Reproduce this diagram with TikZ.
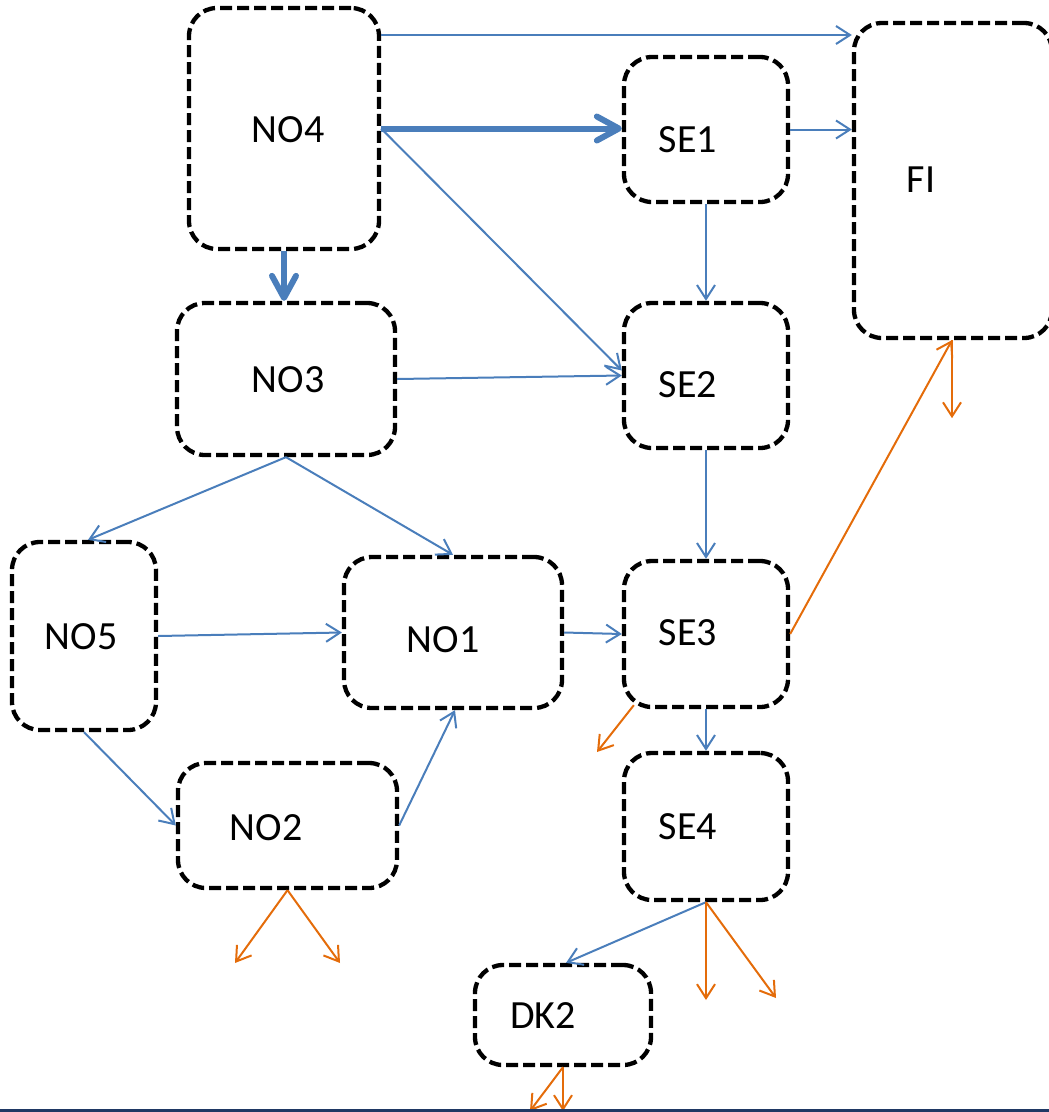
\documentclass[tikz,border=0pt]{standalone}
\usepackage{fontspec}
\setmainfont{Carlito}
\usetikzlibrary{arrows.meta,calc}

\definecolor{flowblue}{RGB}{74,126,187}
\definecolor{lossorange}{RGB}{228,108,10}
\definecolor{rulenavy}{RGB}{31,56,100}

\tikzset{
  stage/.style={draw=black, line width=4.3pt, dash pattern=on 12pt off 5pt,
    rounded corners=28pt, inner sep=0pt, fill=none},
  lbl/.style={inner sep=0pt, font=\fontsize{40}{48}\selectfont},
  flow/.style={draw=flowblue, line width=2pt,
    -{Straight Barb[length=14pt,width=18pt,line width=2pt]}},
  mainflow/.style={draw=flowblue, line width=6pt,
    -{Straight Barb[length=22pt,width=24pt,line width=6pt,round]}},
  loss/.style={draw=lossorange, line width=2pt,
    -{Straight Barb[length=14pt,width=18pt,line width=2pt]}},
}

\begin{document}
\begin{tikzpicture}[x=1pt,y=-1pt]
\useasboundingbox (0,0) rectangle (1049,1112);
\clip (0,0) rectangle (1049,1112);

% stage boxes
\node[stage, minimum width=190pt, minimum height=241pt] (no4) at (284,128.5) {};
\node[stage, minimum width=164pt, minimum height=145pt] (se1) at (706,129.5) {};
\node[stage, minimum width=198pt, minimum height=315pt] (fi)  at (953,180.5) {};
\node[stage, minimum width=218pt, minimum height=152pt] (no3) at (286,379) {};
\node[stage, minimum width=164pt, minimum height=145pt] (se2) at (706,375.5) {};
\node[stage, minimum width=144pt, minimum height=188pt] (no5) at (84,636) {};
\node[stage, minimum width=218pt, minimum height=151pt] (no1) at (453,632.5) {};
\node[stage, minimum width=164pt, minimum height=146pt] (se3) at (706,634) {};
\node[stage, minimum width=219pt, minimum height=125pt] (no2) at (287.5,825.5) {};
\node[stage, minimum width=164pt, minimum height=147pt] (se4) at (706,826.5) {};
\node[stage, minimum width=176pt, minimum height=100pt] (dk2) at (563,1015) {};

% labels
\node[lbl] (tno4) at (288,130) {NO4};
\node[lbl] (tse1) at (688,140) {SE1};
\node[lbl] (tfi)  at (921,180) {FI};
\node[lbl] (tno3) at (288,380) {NO3};
\node[lbl] (tse2) at (688,385) {SE2};
\node[lbl] (tno5) at (81,637) {NO5};
\node[lbl] (tno1) at (443,640) {NO1};
\node[lbl] (tse3) at (688,633) {SE3};
\node[lbl] (tno2) at (266,828) {NO2};
\node[lbl] (tse4) at (688,827) {SE4};
\node[lbl] (tdk2) at (543,1016) {DK2};

% helper points
\coordinate (no4top) at ([yshift=93.5pt]no4.east);
\coordinate (se3corner) at ($(se3.south west)+(12,-4)$);
\coordinate (fiout)  at ($(fi.south)+(-1,78)$);
\coordinate (se3out) at (597,752);
\coordinate (no2outl) at (235,963);
\coordinate (no2outr) at (340,963);
\coordinate (se4outa) at (706,1000);
\coordinate (se4outb) at (776,998);
\coordinate (dk2outa) at (530,1111);
\coordinate (dk2outb) at (563,1111);

% main flows
\draw[mainflow] (no4.east) -- (no4.east -| se1.west);
\draw[mainflow] (no4.south) -- (no4.south |- no3.north);

% flows
\draw[flow] (no4top) -- (no4top -| fi.west);
\draw[flow] (no4.east) -- ([yshift=5pt]se2.west);
\draw[flow] (se1.east) -- (se1.east -| fi.west);
\draw[flow] (se1.south) -- (se2.north);
\draw[flow] (no3.east) -- (se2.west);
\draw[flow] (se2.south) -- (se3.north);
\draw[flow] (no3.south) -- ([xshift=4pt]no5.north);
\draw[flow] (no3.south) -- (no1.north);
\draw[flow] (no5.east) -- (no1.west);
\draw[flow] (no1.east) -- (se3.west);
\draw[flow] (no5.south) -- (no2.west);
\draw[flow] (no2.east) -- ([xshift=2pt]no1.south);
\draw[flow] (se3.south) -- (se4.north);
\draw[flow] (se4.south) -- ([xshift=3pt]dk2.north);

% losses
\draw[loss] (se3.east) -- ([xshift=-1pt]fi.south);
\draw[loss] ([xshift=-1pt]fi.south) -- (fiout);
\draw[loss] (se3corner) -- (se3out);
\draw[loss] (no2.south) -- (no2outl);
\draw[loss] (no2.south) -- (no2outr);
\draw[loss] (se4.south) -- (se4outa);
\draw[loss] (se4.south) -- (se4outb);
\draw[loss] (dk2.south) -- (dk2outa);
\draw[loss] (dk2.south) -- (dk2outb);

% rule along the bottom edge
\draw[rulenavy, line width=3pt] (0,1110.5) -- (1049,1110.5);
\end{tikzpicture}
\end{document}
